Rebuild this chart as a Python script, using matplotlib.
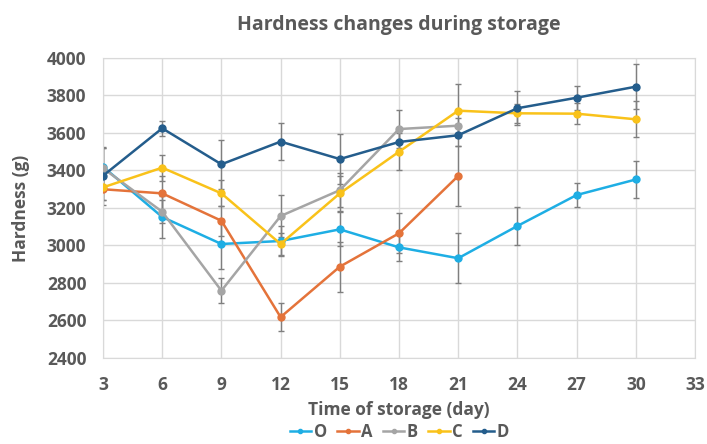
import matplotlib
matplotlib.use("Agg")
import matplotlib.pyplot as plt

days = [3, 6, 9, 12, 15, 18, 21, 24, 27, 30]

O = [3420, 3152, 3008, 3024, 3086, 2990, 2932, 3104, 3269, 3352]
O_err = [100, 110, 135, 80, 90, 73, 133, 102, 66, 97]

A = [3300, 3278, 3132, 2618, 2887, 3065, 3371]
A_err = [60, 90, 80, 75, 133, 107, 160]

B = [3412, 3180, 2759, 3157, 3295, 3621, 3639]
B_err = [110, 60, 67, 110, 90, 100, 40]

C = [3310, 3415, 3278, 3008, 3278, 3500, 3719, 3705, 3703, 3673]
C_err = [70, 70, 70, 60, 95, 100, 140, 50, 55, 95]

D = [3372, 3625, 3433, 3554, 3461, 3552, 3588, 3732, 3788, 3847]
D_err = [155, 40, 130, 100, 135, 60, 60, 90, 65, 120]

series = [
    ("O", O, O_err, "#1EAEE4"),
    ("A", A, A_err, "#E4733A"),
    ("B", B, B_err, "#A5A5A5"),
    ("C", C, C_err, "#F9C21A"),
    ("D", D, D_err, "#245D8C"),
]

txt = "#595959"
plt.rcParams['font.family'] = ['Open Sans', 'DejaVu Sans']

fig = plt.figure(figsize=(7.07, 4.44), dpi=100)
ax = fig.add_axes([0.1457, 0.1937, 0.8373, 0.6757])

for name, vals, err, col in series:
    x = days[:len(vals)]
    ax.errorbar(x, vals, yerr=err, fmt='none', ecolor='#7F7F7F',
                elinewidth=1.0, capsize=2, capthick=1.0, zorder=2)
    ax.plot(x, vals, '-o', color=col, linewidth=1.8, markersize=5,
            label=name, zorder=3)

ax.set_xlim(3, 33)
ax.set_ylim(2400, 4000)
ax.set_xticks(range(3, 34, 3))
ax.set_yticks(range(2400, 4001, 200))
ax.grid(True, color='#D9D9D9', linewidth=1.0)
ax.set_axisbelow(True)
for s in ax.spines.values():
    s.set_color('#D9D9D9')
ax.tick_params(length=0, labelsize=12.5, labelcolor=txt)
ax.tick_params(axis='x', pad=13)
ax.tick_params(axis='y', pad=12)
for lab in ax.get_xticklabels() + ax.get_yticklabels():
    lab.set_fontweight('bold')

ax.set_title("Hardness changes during storage", fontsize=14, fontweight='bold',
             color=txt, pad=20)
ax.set_xlabel("Time of storage (day)", fontsize=12.5, fontweight='bold',
              color=txt, labelpad=5)
ax.set_ylabel("Hardness (g)", fontsize=12.5, fontweight='bold',
              color=txt, labelpad=12)

leg = fig.legend(loc='lower center', bbox_to_anchor=(0.565, -0.012), ncol=5,
                 frameon=False, handlelength=1.3, handletextpad=0.15,
                 columnspacing=0.6, markerscale=0.6, borderpad=0.0,
                 prop={'size': 12, 'weight': 'bold'})
for t in leg.get_texts():
    t.set_color(txt)

fig.savefig("out.png", dpi=100)
